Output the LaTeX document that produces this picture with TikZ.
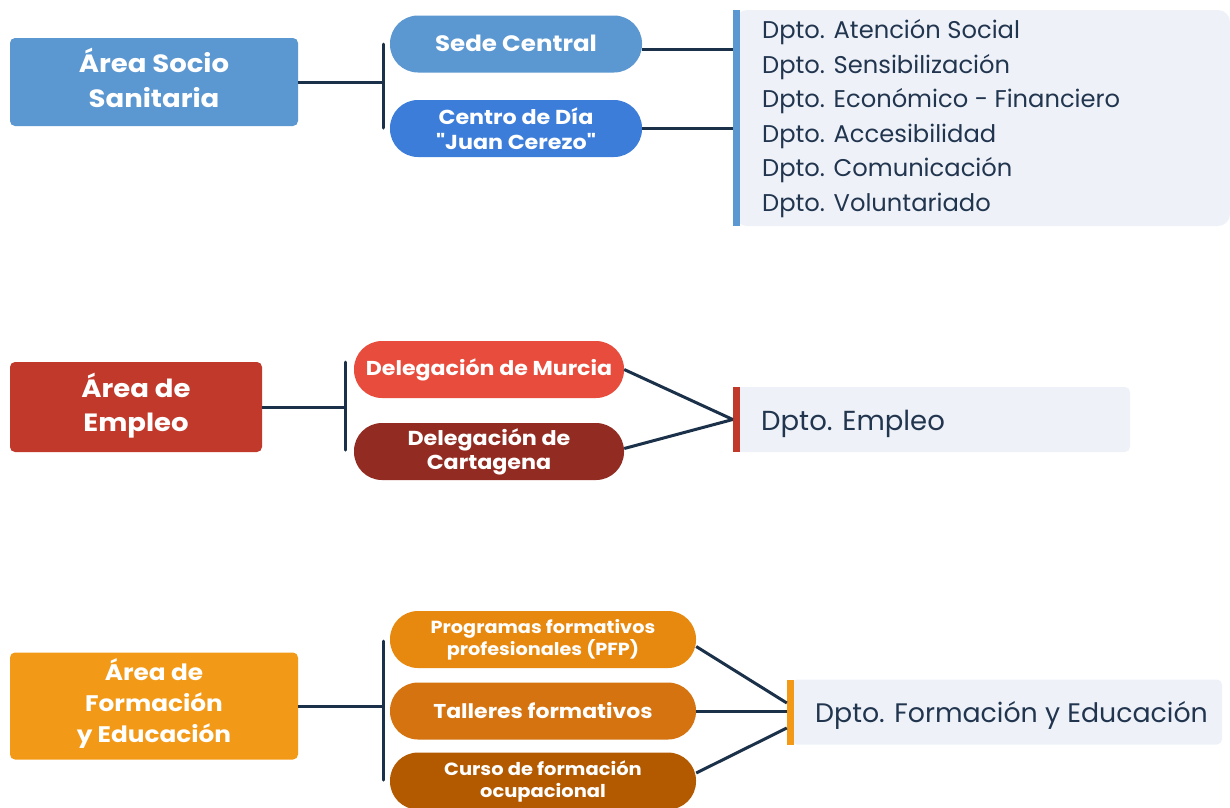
\documentclass[tikz,border=0pt]{standalone}
\usepackage{fontspec}
\setmainfont{Poppins}
\newfontfamily\bff{Poppins}[Ligatures=TeXOff, FakeStretch=1.1]
\definecolor{navy}{HTML}{1B3049}
\definecolor{txt}{HTML}{22354F}
\definecolor{listbg}{HTML}{EEF2F8}
\definecolor{socio}{HTML}{5B97D0}
\definecolor{centro}{HTML}{3C7DD9}
\definecolor{empleo}{HTML}{C0392B}
\definecolor{murcia}{HTML}{E74C3C}
\definecolor{carta}{HTML}{922B21}
\definecolor{forma}{HTML}{F29A17}
\definecolor{prog}{HTML}{E8890F}
\definecolor{taller}{HTML}{D4730F}
\definecolor{curso}{HTML}{B35A00}
\begin{document}
\begin{tikzpicture}[x=1pt,y=-1pt,
  area/.style={rectangle, rounded corners=5pt, inner sep=0pt},
  atext/.style={text=white, align=center, inner sep=0pt,
    font=\bff\bfseries\fontsize{25}{34.5}\selectfont},
  pill/.style={rectangle, rounded corners=28pt, text=white, align=center, inner sep=0pt,
    minimum width=252pt, minimum height=57pt},
  conn/.style={draw=navy, line width=3pt},
  brk/.style={draw=navy, line width=3pt, line cap=round},
  bar/.style={rectangle, inner sep=0pt, minimum width=7pt},
  panel/.style={rectangle, fill=listbg, inner sep=0pt},
  dept/.style={anchor=base west, text=txt, inner sep=0pt, font=\fontsize{24.2}{28}\selectfont}]
\useasboundingbox (0,0) rectangle (1230,807);

% ---------- Área Socio Sanitaria ----------
\node[area, fill=socio, minimum width=288pt, minimum height=88pt,
  label={[atext, yshift=4pt]center:{Área Socio\\Sanitaria}}] (a1) at (154,82) {};
\node[pill, fill=socio, font=\bff\bfseries\fontsize{22.3}{26}\selectfont] (s1) at (516,44) {\raisebox{1.5pt}{Sede Central}};
\node[pill, fill=centro, font=\bff\bfseries\fontsize{20.2}{25}\selectfont] (s2) at (516,128.5) {Centro de Día\\"Juan Cerezo"};
\coordinate (k1t) at (383,44);
\coordinate (k1b) at (383,128);
\coordinate (k1) at (383,82);
\draw[conn] (a1.east) -- (a1.east -| k1);
\draw[brk] (k1t) -- (k1b);

\node[panel, rounded corners=12pt, minimum width=495pt, minimum height=216pt] (p1) at (982.5,118) {};
\node[bar, fill=socio, minimum height=216pt] (b1) at (736.5,118) {};
\coordinate (s1r) at ([yshift=-5pt]s1.east);
\draw[conn] (s1r) -- (s1r -| b1.west);
\draw[conn] (s2.east) -- (s2.east -| b1.west);
\node[dept] (d1) at (762,38.5) {Dpto. Atención Social};
\node[dept] (d2) at (762,73) {Dpto. Sensibilización};
\node[dept] (d3) at (762,107.5) {Dpto. Económico - Financiero};
\node[dept] (d4) at (762,142) {Dpto. Accesibilidad};
\node[dept] (d5) at (762,176.5) {Dpto. Comunicación};
\node[dept] (d6) at (762,211) {Dpto. Voluntariado};

% ---------- Área de Empleo ----------
\node[area, fill=empleo, minimum width=252pt, minimum height=90pt,
  label={[atext, yshift=1.5pt]center:{Área de\\Empleo}}] (a2) at (136,407) {};
\node[pill, fill=murcia, minimum width=270pt, font=\bff\bfseries\fontsize{20.1}{24}\selectfont] (m1) at (489,369.5) {\raisebox{1pt}{Delegación de Murcia}};
\node[pill, fill=carta, minimum width=270pt, font=\bff\bfseries\fontsize{20.2}{24}\selectfont] (m2) at (489,451.5) {Delegación de\\Cartagena};
\coordinate (k2t) at (345,362);
\coordinate (k2b) at (345,450);
\coordinate (k2) at (345,406);
\draw[conn] (a2.east) -- (a2.east -| k2);
\draw[brk] (k2t) -- (k2b);

\node[panel, rounded corners=5pt, minimum width=395pt, minimum height=65pt] (p2) at (932.5,419.5) {};
\node[bar, fill=empleo, minimum height=65pt] (b2) at (736.5,419.5) {};
\node[anchor=base west, text=txt, inner sep=0pt, font=\fontsize{27.5}{30}\selectfont] (e1) at (761,430) {Dpto. Empleo};
\draw[conn] (m1.east) -- (b2.west);
\draw[conn] ([yshift=3pt]m2.east) -- (b2.west);

% ---------- Área de Formación y Educación ----------
\node[area, fill=forma, minimum width=288pt, minimum height=107pt,
  label={[atext, yshift=3pt, font=\bff\bfseries\fontsize{22.5}{31}\selectfont]center:{Área de\\Formación\\y Educación}}] (a3) at (154,706) {};
\node[pill, fill=prog, minimum width=306pt, font=\bff\bfseries\fontsize{17.5}{22}\selectfont] (f1) at (543,639.5) {Programas formativos\\profesionales (PFP)};
\node[pill, fill=taller, minimum width=306pt, font=\bff\bfseries\fontsize{20}{24}\selectfont] (f2) at (543,711) {Talleres formativos};
\node[pill, fill=curso, minimum width=306pt, font=\bff\bfseries\fontsize{17.7}{22}\selectfont] (f3) at (543,781) {Curso de formación\\ocupacional};
\coordinate (k3t) at (383,641);
\coordinate (k3b) at (383,780);
\coordinate (k3) at (383,708);
\draw[conn] (a3.east) -- (a3.east -| k3);
\draw[brk] (k3t) -- (k3b);

\node[panel, rounded corners=5pt, minimum width=430pt, minimum height=65pt] (p3) at (1007,712) {};
\node[bar, fill=forma, minimum height=65pt] (b3) at (790.5,712) {};
\node[anchor=base west, text=txt, inner sep=0pt, font=\fontsize{26.8}{30}\selectfont] (e2) at (815,722) {Dpto. Formación y Educación};
\coordinate (c31) at ([yshift=9pt]b3.west);
\coordinate (c33) at ([yshift=-16pt]b3.west);
\draw[conn] ([yshift=-7pt]f1.east) -- (c31);
\draw[conn] (f2.east) -- (f2.east -| b3.west);
\draw[conn] ([yshift=8pt]f3.east) -- (c33);
\end{tikzpicture}
\end{document}
